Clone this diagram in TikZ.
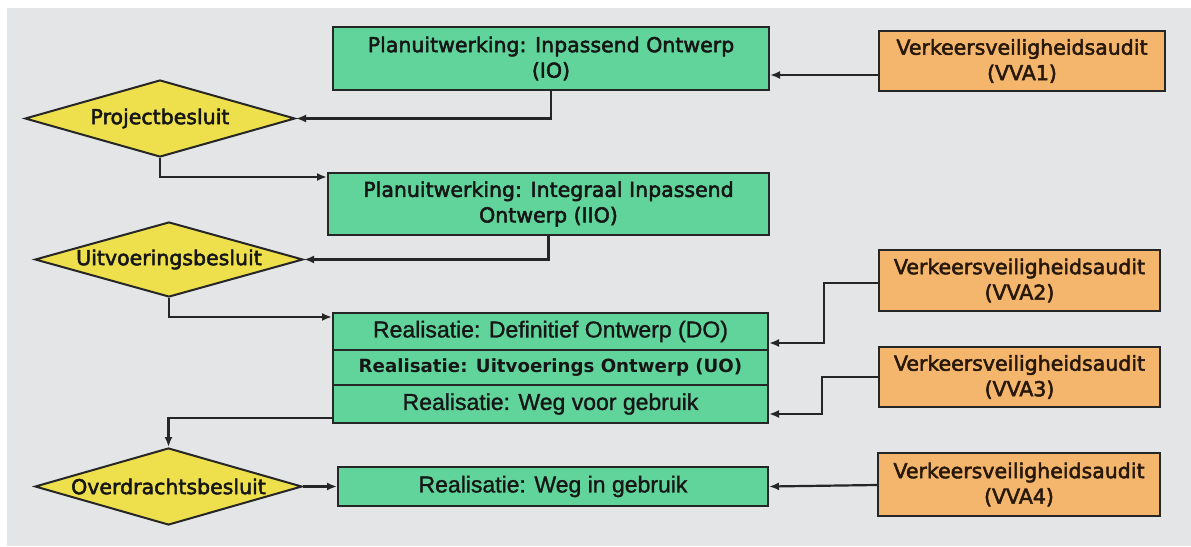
\documentclass[tikz,border=0pt]{standalone}
\usepackage{fontspec}
\setmainfont{DejaVu Sans}[FakeBold=2.5]
\newfontfamily\arialf{Liberation Sans}[FakeBold=1.2]
\newfontfamily\verdbold{DejaVu Sans Bold}
\usetikzlibrary{shapes.geometric,arrows.meta}
\definecolor{bgc}{RGB}{228,229,231}
\definecolor{greenc}{RGB}{96,212,154}
\definecolor{orangec}{RGB}{243,182,108}
\definecolor{yellowc}{RGB}{238,224,76}
\definecolor{linec}{RGB}{38,38,38}
\definecolor{textc}{RGB}{22,22,22}
\definecolor{browntext}{RGB}{40,24,12}
\begin{document}
\begin{tikzpicture}[x=1pt,y=-1pt,
  verd/.style={font=\fontsize{20.5}{25.5}\selectfont},
  greenbox/.style={rectangle, draw=linec, line width=2pt, fill=greenc, inner sep=0pt, align=center, text=textc, verd},
  orangebox/.style={rectangle, draw=linec, line width=2pt, fill=orangec, inner sep=0pt, align=center, text=browntext, verd},
  arialtext/.style={font=\arialf\fontsize{23}{26}\selectfont},
  decision/.style={diamond, aspect=3.5, draw=linec, line width=2pt, fill=yellowc, inner sep=0pt, text=textc, verd},
  conn/.style={draw=linec, line width=2.2pt, -{Latex[length=10pt,width=8pt]}}
]
\fill[white] (0,0) rectangle (1191,546);
\fill[bgc] (7,8) rectangle (1191,546);
\useasboundingbox (0,0) rectangle (1191,546);

% green boxes
\node[greenbox, minimum width=436pt, minimum height=63pt] (IO) at (551,58.5) {Planuitwerking: Inpassend Ontwerp\\(IO)};
\node[greenbox, minimum width=441pt, minimum height=62pt] (IIO) at (548.5,204) {Planuitwerking: Integraal Inpassend\\Ontwerp (IIO)};
\node[greenbox, arialtext, minimum width=435pt, minimum height=37pt] (DO) at (550.5,331.5) {Realisatie: Definitief Ontwerp (DO)};
\node[greenbox, font=\verdbold\fontsize{18.2}{22}\selectfont, minimum width=435pt, minimum height=35pt] (UO) at (550.5,367.5) {Realisatie: Uitvoerings Ontwerp (UO)};
\node[greenbox, arialtext, minimum width=435pt, minimum height=38pt] (WVG) at (550.5,404) {Realisatie: Weg voor gebruik};
\node[greenbox, arialtext, minimum width=430pt, minimum height=39pt] (WIG) at (553,486.5) {Realisatie: Weg in gebruik};

% orange boxes
\node[orangebox, minimum width=286pt, minimum height=60pt] (VVA1) at (1022,61) {Verkeersveiligheidsaudit\\(VVA1)};
\node[orangebox, minimum width=281pt, minimum height=61pt] (VVA2) at (1019.5,280.5) {Verkeersveiligheidsaudit\\(VVA2)};
\node[orangebox, minimum width=281pt, minimum height=60pt] (VVA3) at (1019.5,377) {Verkeersveiligheidsaudit\\(VVA3)};
\node[orangebox, minimum width=282pt, minimum height=63pt] (VVA4) at (1019,484.5) {Verkeersveiligheidsaudit\\(VVA4)};

% decisions
\node[decision, minimum width=270pt, minimum height=77pt] (PB) at (160,118.5) {Projectbesluit};
\node[decision, minimum width=268pt, minimum height=75pt] (UB) at (169,259.5) {Uitvoeringsbesluit};
\node[decision, minimum width=267pt, minimum height=77pt] (OB) at (168.5,486.5) {Overdrachtsbesluit};

% connectors
\draw[conn] ([yshift=-14pt]VVA1.west) -- ([yshift=-16.5pt]IO.east);
\draw[conn] (IO.south) |- (PB.east);
\draw[conn] (PB.south) |- ([yshift=27pt]IIO.west);
\draw[conn] (IIO.south) |- (UB.east);
\draw[conn] (UB.south) |- ([yshift=14.5pt]DO.west);
\draw[conn] ([yshift=-2.5pt]VVA2.west) -- ++(-54,0) |- ([yshift=-11.5pt]DO.east);
\draw[conn] (VVA3.west) -- ++(-56,0) |- ([yshift=-10pt]WVG.east);
\draw[conn] ([yshift=-14pt]WVG.west) -| (OB.north);
\draw[conn] (OB.east) -- (WIG.west);
\draw[conn] ([yshift=-0.5pt]VVA4.west) -- (WIG.east);
\end{tikzpicture}
\end{document}
